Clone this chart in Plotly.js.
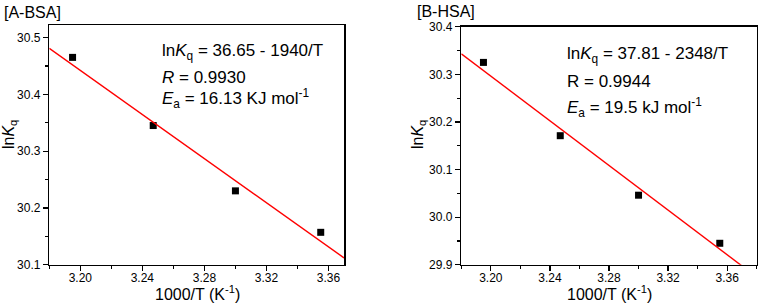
<!DOCTYPE html>
<html>
<head>
<meta charset="utf-8">
<script src="https://cdn.plot.ly/plotly-3.0.1.min.js"></script>
<style>html,body{margin:0;padding:0;background:#fff;}#chart{width:758px;height:304px;}</style>
</head>
<body>
<div id="chart"></div>
<script>
// Data
const invT = [3.195, 3.247, 3.300, 3.355];            // 1000/T (K^-1)
const lnKqBSA = [30.465, 30.345, 30.230, 30.157];     // [A-BSA]
const lnKqHSA = [30.325, 30.171, 30.046, 29.945];     // [B-HSA]
const fitXBSA = [3.18, 3.37];
const fitYBSA = [30.481, 30.112];
const fitXHSA = [3.18, 3.38];
const fitYHSA = [30.343, 29.874];
const xTickVals = [3.20, 3.24, 3.28, 3.32, 3.36];
const yTickBSA = [30.1, 30.2, 30.3, 30.4, 30.5];
const yTickHSA = [29.9, 30.0, 30.1, 30.2, 30.3, 30.4];

const FONT = '"Liberation Sans", Arial, Helvetica, sans-serif';
const W = 758, H = 304;
const px = v => v / W;
const py = v => 1 - v / H;

const markerStyle = {symbol: 'square', size: 7, color: '#000'};
const lineStyle = {color: '#ff0000', width: 1.4};

const traces = [
  {x: invT, y: lnKqBSA, type: 'scatter', mode: 'markers', marker: markerStyle, xaxis: 'x', yaxis: 'y', cliponaxis: false},
  {x: fitXBSA, y: fitYBSA, type: 'scatter', mode: 'lines', line: lineStyle, xaxis: 'x', yaxis: 'y'},
  {x: invT, y: lnKqHSA, type: 'scatter', mode: 'markers', marker: markerStyle, xaxis: 'x2', yaxis: 'y2', cliponaxis: false},
  {x: fitXHSA, y: fitYHSA, type: 'scatter', mode: 'lines', line: lineStyle, xaxis: 'x2', yaxis: 'y2'}
];

function xAxis(domain, range, anchor) {
  return {
    domain: domain, range: range, anchor: anchor,
    tickmode: 'array', tickvals: xTickVals, ticktext: xTickVals.map(v => v.toFixed(2)),
    ticks: 'outside', ticklen: 5, tickwidth: 1.2, tickcolor: '#000',
    minor: {ticks: 'outside', ticklen: 3, tickwidth: 1.2, tickcolor: '#000', tickmode: 'linear', tick0: 3.18, dtick: 0.04},
    showline: true, linecolor: '#000', linewidth: 1.5, mirror: true,
    showgrid: false, zeroline: false, automargin: false,
    ticklabelstandoff: -4,
    tickfont: {family: FONT, size: 12, color: '#000'}
  };
}
function yAxis(domain, range, anchor, ticks) {
  return {
    domain: domain, range: range, anchor: anchor,
    tickmode: 'array', tickvals: ticks, ticktext: ticks.map(v => v.toFixed(1)),
    ticks: 'outside', ticklen: 5, tickwidth: 1.2, tickcolor: '#000',
    minor: {ticks: 'outside', ticklen: 3, tickwidth: 1.2, tickcolor: '#000', tickmode: 'linear', tick0: ticks[0] + 0.05, dtick: 0.1},
    showline: true, linecolor: '#000', linewidth: 1.5, mirror: true,
    showgrid: false, zeroline: false, automargin: false,
    tickfont: {family: FONT, size: 12, color: '#000'}
  };
}

function ann(text, x, y, size, extra) {
  return Object.assign({text: text, xref: 'paper', yref: 'paper', x: px(x), y: py(y), xanchor: 'left', yanchor: 'middle',
          showarrow: false, font: {family: FONT, size: size, color: '#000'}}, extra || {});
}

const layout = {
  width: W, height: H,
  margin: {l: 0, r: 0, t: 0, b: 0},
  paper_bgcolor: '#fff', plot_bgcolor: '#fff',
  showlegend: false,
  xaxis: xAxis([px(49.3), px(344)], [3.18, 3.37], 'y'),
  yaxis: yAxis([1 - 264.7 / H, 1 - 25 / H], [30.1, 30.522], 'x', yTickBSA),
  xaxis2: xAxis([px(461.3), px(756.7)], [3.18, 3.38], 'y2'),
  yaxis2: yAxis([1 - 264.7 / H, 1 - 26.7 / H], [29.9, 30.4], 'x2', yTickHSA),
  annotations: [
    ann('[A-BSA]', 2, 13, 16),
    ann('[B-HSA]', 415, 11, 16),
    // axis titles
    ann('1000/T (K<sup>-1</sup>)', 197, 293, 16, {xanchor: 'center'}),
    ann('1000/T (K<sup>-1</sup>)', 609, 293, 16, {xanchor: 'center'}),
    ann('ln<i>K</i><sub>q</sub>', 9, 135, 16, {xanchor: 'center', textangle: -90}),
    ann('ln<i>K</i><sub>q</sub>', 418, 135, 16, {xanchor: 'center', textangle: -90}),
    // fit annotations
    ann('ln<i>K</i><sub>q</sub> = 36.65 - 1940/T', 160, 52, 17),
    ann('<i>R</i> = 0.9930', 160, 78, 17),
    ann('<i>E</i><sub>a</sub> = 16.13 KJ mol<sup>-1</sup>', 160, 98, 17),
    ann('ln<i>K</i><sub>q</sub> = 37.81 - 2348/T', 565, 55, 17),
    ann('R = 0.9944', 565, 81, 17),
    ann('<i>E</i><sub>a</sub> = 19.5 kJ mol<sup>-1</sup>', 565, 107, 17)
  ]
};

Plotly.newPlot('chart', traces, layout, {staticPlot: true, displayModeBar: false});
</script>
</body>
</html>
